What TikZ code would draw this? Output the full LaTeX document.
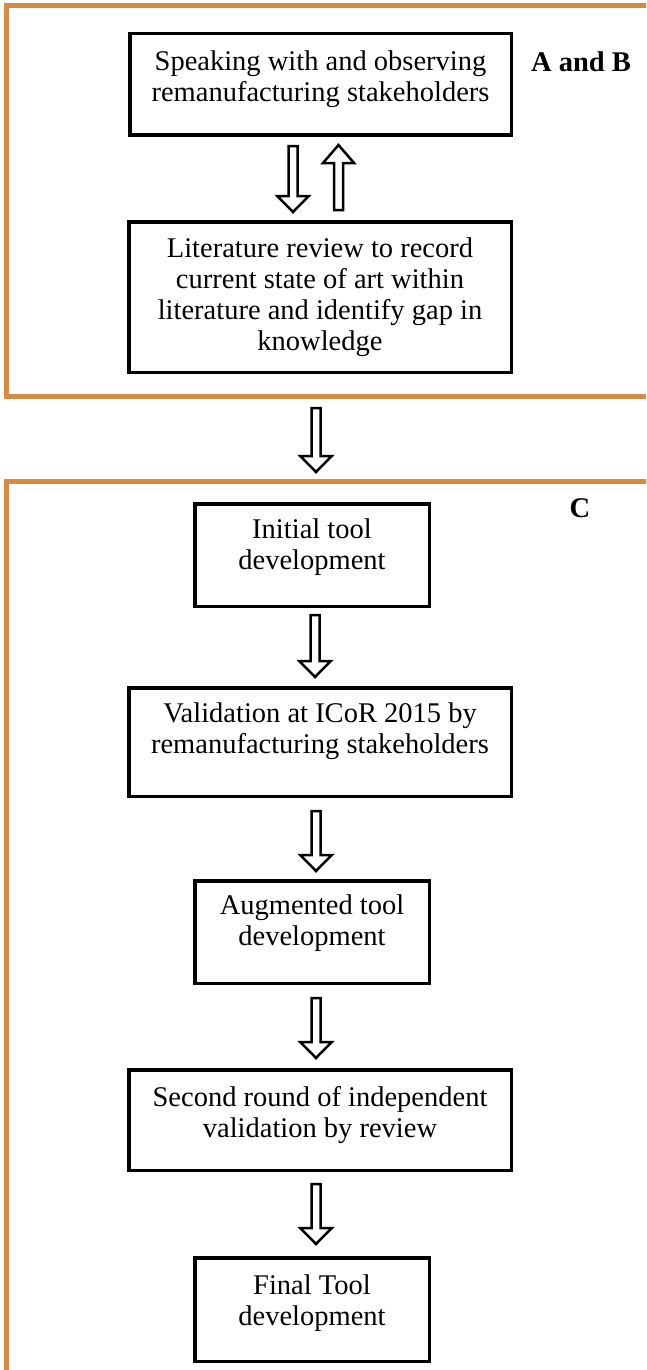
\documentclass[tikz,border=0pt]{standalone}
\usepackage{fontspec}
\setmainfont{Liberation Serif}
\usetikzlibrary{calc}
\definecolor{frameorange}{RGB}{214,138,66}
\tikzset{
  frame/.style={draw=frameorange, line width=5pt},
  box/.style={draw=black, line width=3.5pt, rectangle, inner sep=0pt},
  txt/.style={align=center, inner sep=0pt, font=\fontsize{28.5}{31}\selectfont},
  tag/.style={inner sep=0pt, font=\fontsize{28.5}{31}\selectfont\bfseries},
  blk/.style={draw=black, fill=white, line width=2.5pt, line join=miter},
}
\newcommand\blkdown[2]{\draw[blk] let \p1=#1, \p2=#2 in
  (\x1-4.5pt,\y1) -- (\x1+4.5pt,\y1) -- (\x1+4.5pt,\y2+16pt) -- (\x1+15.75pt,\y2+16pt)
  -- (\x1,\y2) -- (\x1-15.75pt,\y2+16pt) -- (\x1-4.5pt,\y2+16pt) -- cycle;}
\newcommand\blkup[2]{\draw[blk] let \p1=#1, \p2=#2 in
  (\x1,\y1) -- (\x1+15.5pt,\y1-18pt) -- (\x1+4.5pt,\y1-18pt) -- (\x1+4.5pt,\y2)
  -- (\x1-4.5pt,\y2) -- (\x1-4.5pt,\y1-18pt) -- (\x1-15.5pt,\y1-18pt) -- cycle;}
\begin{document}
\begin{tikzpicture}[x=1pt,y=-1pt]
\useasboundingbox (0,0) rectangle (646,1370);
\clip (0,0) rectangle (646,1370);
\fill[white] (0,0) rectangle (646,1370);
% frames
\draw[frame] (6.5,5.5) rectangle (720,396);
\draw[frame] (6.5,481) rectangle (720,1420);
\coordinate (f1b) at (316,396);
\coordinate (f2t) at (316,481);
% boxes
\node[box, minimum width=381.5, minimum height=101.5] (b1) at (320.5,84.5) {};
\node[box, minimum width=382.5, minimum height=150.5] (b2) at (320,297) {};
\node[box, minimum width=234.5, minimum height=102.5] (b3) at (312,555) {};
\node[box, minimum width=382.5, minimum height=108.5] (b4) at (320,742) {};
\node[box, minimum width=234.5, minimum height=102.5] (b5) at (312,932) {};
\node[box, minimum width=382.5, minimum height=100.5] (b6) at (320,1120) {};
\node[box, minimum width=234.5, minimum height=103.5] (b7) at (312,1309.5) {};
% texts
\node[txt] (t1) at (320.5,79) {Speaking with and observing\\remanufacturing stakeholders};
\node[txt] (t2) at (320,297) {Literature review to record\\current state of art within\\literature and identify gap in\\knowledge};
\node[txt] (t3) at (312,547) {Initial tool\\development};
\node[txt] (t4) at (320,731) {Validation at ICoR 2015 by\\remanufacturing stakeholders};
\node[txt] (t5) at (312,923) {Augmented tool\\development};
\node[txt] (t6) at (320,1115) {Second round of independent\\validation by review};
\node[txt] (t7) at (312,1303) {Final Tool\\development};
% tags
\node[tag] (ab) at (581,62) {A and B};
\node[tag] (c) at (580,508) {C};
% arrows
\blkdown{($(b1.south)+(-27.5,9)$)}{($(b2.north)+(-27,-8)$)}
\blkup{($(b1.south)+(18,8)$)}{($(b2.north)+(18.5,-10)$)}
\blkdown{($(f1b)+(0,12)$)}{($(f2t)+(0,-9)$)}
\blkdown{($(b3.south)+(3,7)$)}{($(b4.north)+(-5,-9)$)}
\blkdown{($(b4.south)+(-4,13)$)}{($(b5.north)+(4,-8)$)}
\blkdown{($(b5.south)+(4,13)$)}{($(b6.north)+(-4,-10)$)}
\blkdown{($(b6.south)+(-4,12)$)}{($(b7.north)+(4,-12)$)}
\end{tikzpicture}
\end{document}
